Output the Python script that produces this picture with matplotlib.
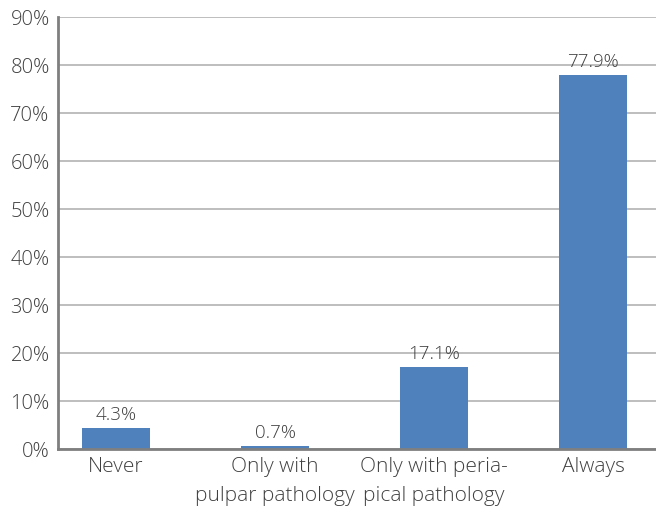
import numpy as np
import matplotlib.pyplot as plt
from matplotlib.ticker import FuncFormatter

categories = ['Never', 'Only with\npulpar pathology', 'Only with peria-\npical pathology', 'Always']
percent = [4.3, 0.7, 17.1, 77.9]
y_ticks = [0, 10, 20, 30, 40, 50, 60, 70, 80, 90]

BAR_COLOR = '#4f81bd'
TEXT_COLOR = '#404040'

plt.rcParams['font.family'] = ['Open Sans', 'DejaVu Sans']
plt.rcParams['font.weight'] = 'light'

fig = plt.figure(figsize=(6.56, 5.08), dpi=100)
ax = fig.add_axes([0.0884, 0.116, 0.9116, 0.8505])

x = np.arange(len(categories))
bars = ax.bar(x, percent, width=0.43, color=BAR_COLOR, zorder=3)

for rect, val in zip(bars, percent):
    ax.annotate(f'{val}%', (rect.get_x() + rect.get_width() / 2, rect.get_height()),
                xytext=(0, 3), textcoords='offset points', ha='center', va='bottom',
                fontsize=13.5, color=TEXT_COLOR, fontweight='light')

ax.set_ylim(0, 90)
ax.set_xlim(-0.365, 3.396)
ax.set_yticks(y_ticks)
ax.yaxis.set_major_formatter(FuncFormatter(lambda v, _: f'{v:.0f}%'))
ax.set_xticks(x)
ax.set_xticklabels(categories, linespacing=1.55, fontsize=15, fontweight='light')

ax.grid(axis='y', color='#b3b3b3', linewidth=1.2, zorder=0)
ax.tick_params(axis='both', length=0, colors=TEXT_COLOR)
ax.tick_params(axis='y', pad=6, labelsize=14.5)
ax.tick_params(axis='x', pad=6)
for lbl in ax.get_yticklabels():
    lbl.set_fontweight('light')

for side in ['top', 'right']:
    ax.spines[side].set_visible(False)
for side in ['left', 'bottom']:
    ax.spines[side].set_color('#7f7f7f')
    ax.spines[side].set_linewidth(2)
    ax.spines[side].set_zorder(4)

fig.savefig('out.png', dpi=100)
